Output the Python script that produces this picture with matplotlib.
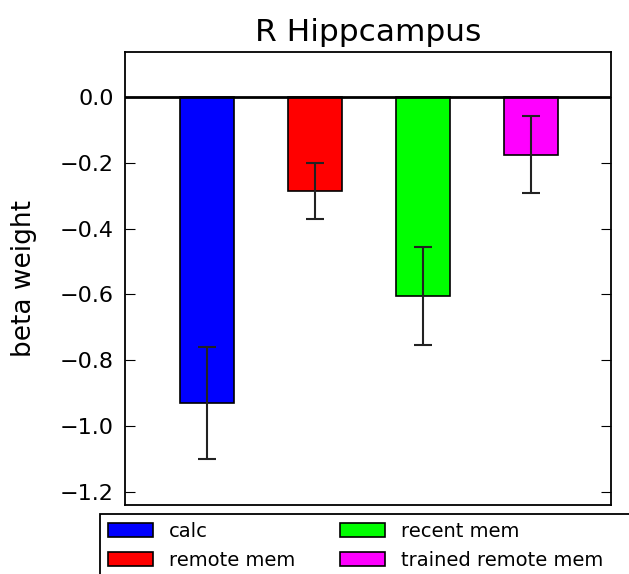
import matplotlib
matplotlib.use("Agg")
import matplotlib.pyplot as plt
import numpy as np

# beta weights and errors for the right hippocampus ROI
conditions = ["calc", "remote mem", "recent mem", "trained remote mem"]
betas = [-0.93, -0.285, -0.605, -0.175]
errors = [0.17, 0.086, 0.149, 0.118]
colors = ["#0000ff", "#ff0000", "#00ff00", "#ff00ff"]

fig = plt.figure(figsize=(6.29, 5.74), dpi=100)
ax = fig.add_axes([0.1987, 0.1202, 0.7727, 0.7892])

x = np.arange(len(conditions))
bars = []
for i in range(len(conditions)):
    b = ax.bar(x[i], betas[i], width=0.5, color=colors[i], edgecolor="black",
               linewidth=1.2, yerr=errors[i], ecolor="#222222", capsize=6.5,
               error_kw={"elinewidth": 1.5, "capthick": 1.5}, label=conditions[i])
    bars.append(b)

ax.axhline(0, color="black", linewidth=2)
ax.set_xlim(-0.755, 3.745)
ax.set_ylim(-1.24, 0.137)
ax.set_xticks([])
ax.set_yticks([0.0, -0.2, -0.4, -0.6, -0.8, -1.0, -1.2])
ax.set_yticklabels(["0.0", "\u22120.2", "\u22120.4", "\u22120.6", "\u22120.8", "\u22121.0", "\u22121.2"])
ax.tick_params(axis="y", direction="in", right=True, length=7, labelsize=16, pad=8)
for s in ax.spines.values():
    s.set_linewidth(1.3)
ax.set_ylabel("beta weight", fontsize=19)
ax.yaxis.set_label_coords(-0.18, 0.5)
ax.set_title("R Hippcampus", fontsize=22.5, pad=8)

# legend sits below the axes; its box runs past the figure edge
left, top = 100 / 629, 1 - 514 / 574
fig.legend(handles=[b.patches[0] for b in bars], labels=conditions,
           loc="upper left", bbox_to_anchor=(left, top),
           ncol=2, fontsize=14, frameon=False, borderaxespad=0,
           handlelength=2.3, handletextpad=0.85, columnspacing=2.3)
fig.patches.append(plt.Rectangle((left, -0.1), 1.0, top + 0.1,
                                 transform=fig.transFigure, fill=False,
                                 edgecolor="black", linewidth=1.3))

fig.savefig("out.png", dpi=100)
